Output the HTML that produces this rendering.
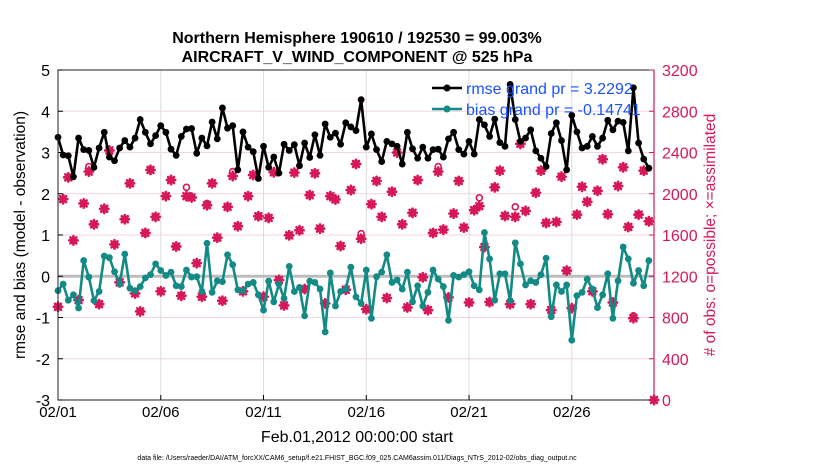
<!DOCTYPE html>
<html><head><meta charset="utf-8"><style>
body{margin:0;background:#fff;}
svg text{font-family:"Liberation Sans",Arial,sans-serif;}
</style></head><body>
<svg id="chart" width="830" height="470" xmlns="http://www.w3.org/2000/svg">
<rect width="830" height="470" fill="#fff"/>
<g id="grid"></g>
<g id="marks"></g>
<g id="axes"></g>
<text x="357" y="43" text-anchor="middle" font-size="16" font-weight="bold">Northern Hemisphere 190610 / 192530 = 99.003%</text>
<text x="357" y="62" text-anchor="middle" font-size="16" font-weight="bold">AIRCRAFT_V_WIND_COMPONENT @ 525 hPa</text>
<text x="357" y="442" text-anchor="middle" font-size="16">Feb.01,2012 00:00:00 start</text>
<text x="357" y="460" text-anchor="middle" font-size="7">data file: /Users/raeder/DAI/ATM_forcXX/CAM6_setup/f.e21.FHIST_BGC.f09_025.CAM6assim.011/Diags_NTrS_2012-02/obs_diag_output.nc</text>
<text transform="translate(25,235) rotate(-90)" text-anchor="middle" font-size="15.5">rmse and bias (model - observation)</text>
<text transform="translate(715,235) rotate(-90)" text-anchor="middle" font-size="15.5" fill="#d6185a"># of obs: o=possible; ×=assimilated</text>
<g>
<g><line x1="432" y1="88" x2="462" y2="88" stroke="#000" stroke-width="2.5"/><circle cx="447" cy="88" r="3.5" fill="#000"/><text x="466" y="94" font-size="16" fill="#1a53ff">rmse grand pr = 3.2292</text></g>
<g><line x1="432" y1="109" x2="462" y2="109" stroke="#138a85" stroke-width="2.5"/><circle cx="447" cy="109" r="3.5" fill="#138a85"/><text x="466" y="115" font-size="16" fill="#1a53ff">bias grand pr = -0.14741</text></g>
</g>
</svg>
<script>
const dateTicks=['02/01','02/06','02/11','02/16','02/21','02/26'];
const leftTicks=[-3,-2,-1,0,1,2,3,4,5];
const rightTicks=[0,400,800,1200,1600,2000,2400,2800,3200];
const rmse=[3.37,2.94,2.92,2.41,3.35,3.07,3.05,2.64,3.11,3.49,2.89,2.80,3.11,3.29,3.13,3.35,3.80,3.49,3.21,3.41,3.65,3.49,3.08,2.93,3.39,3.57,3.58,2.98,3.35,3.16,
3.74,3.33,4.08,3.59,3.65,2.58,3.50,3.13,3.02,2.37,3.15,2.64,2.89,2.50,3.20,3.05,3.19,2.68,3.23,2.88,3.43,2.93,3.69,3.37,3.47,3.20,3.72,3.62,3.53,4.28,
3.13,3.45,3.07,2.78,3.27,3.21,3.15,2.72,3.49,3.09,2.86,3.13,2.86,3.07,3.08,2.89,3.33,3.49,3.07,2.96,3.27,2.96,3.80,3.67,3.39,3.81,3.24,3.15,
4.65,3.80,3.27,3.35,3.55,3.04,2.86,2.66,3.46,3.72,3.29,2.58,3.90,3.50,3.11,3.15,3.39,3.15,3.35,3.78,3.55,3.76,3.73,3.04,4.57,3.23,2.84,2.62];
const bias=[-0.35,-0.19,-0.58,-0.45,-0.77,0.38,-0.02,-0.59,-0.37,0.49,0.45,0.11,-0.19,0.54,-0.29,-0.35,-0.25,-0.04,0.04,0.30,0.14,0.02,0.10,-0.23,-0.25,0.15,-0.02,-0.01,-0.37,0.80,
-0.39,-0.11,-0.13,0.52,0.28,-0.33,-0.35,-0.19,-0.15,-0.45,-0.82,-0.12,-0.62,-0.19,-0.54,0.24,-0.37,-0.27,-0.96,-0.12,-0.15,-0.31,-1.35,0.08,-0.72,-0.37,-0.31,0.22,-0.50,
-0.66,0.15,-1.02,-0.01,0.10,0.52,-0.15,-0.09,-0.31,0.10,-0.62,-0.23,-0.72,-0.39,0.15,-0.07,-0.25,-1.07,0.02,-0.02,0.04,0.11,-0.23,-0.33,1.06,0.42,-0.58,0.06,0.06,
-0.59,0.81,0.30,-0.21,-0.11,-0.15,0.04,0.44,-0.98,-0.21,-0.37,-0.21,-1.55,-0.47,-0.39,-0.07,-0.31,-0.76,-0.45,0.06,-1.02,-0.11,0.71,0.42,-0.17,0.14,-0.23,0.38];
const nAssim=[904,1948,2159,1548,969,1906,2215,1704,930,1854,2420,1509,1141,1753,2101,1034,859,1620,2231,1776,1054,1977,2133,1489,1011,1977,1964,1327,1002,1889,
2101,1574,963,1873,2172,1685,1054,1977,2182,1782,1002,1766,2208,1164,917,1597,2205,1646,1076,1987,2198,1662,937,1977,1945,1493,1070,2036,2289,
1564,881,1899,2124,1776,989,2020,2400,1704,898,1815,2133,1190,872,1620,2215,1652,995,1808,2124,1672,946,1841,1880,1483,950,2062,2224,1785,
930,1776,2484,1834,930,2010,2224,1717,872,1727,2166,1255,891,1798,2068,1922,1054,2029,2335,1802,946,2075,2257,1678,793,1798,2224,1733,0];
const nPossible=[904,1948,2159,1548,969,1906,2264,1704,930,1854,2420,1509,1141,1753,2101,1034,859,1620,2231,1776,1054,1977,2133,1489,1011,2062,1964,1327,1002,1906,
2101,1574,963,1873,2215,1685,1054,1977,2182,1782,1002,1766,2208,1164,917,1597,2205,1646,1076,1987,2198,1662,937,1977,1945,1493,1070,2036,2289,
1613,881,1899,2124,1776,989,2020,2400,1704,898,1815,2133,1190,872,1620,2264,1652,995,1808,2124,1672,946,1841,1961,1483,950,2062,2224,1785,
930,1873,2484,1834,930,2010,2224,1717,872,1727,2166,1255,891,1798,2068,1922,1054,2029,2335,1802,946,2075,2257,1678,816,1798,2224,1733,0];

const X0=58,X1=654,Y0=400,Y1=70,DAYS=29;
const xDay=d=>X0+(X1-X0)*d/DAYS;
const xIdx=i=>xDay(i*0.25);
const yL=v=>Y0-(v+3)/8*(Y0-Y1);
const yR=c=>Y0-c/3200*(Y0-Y1);
const NS='http://www.w3.org/2000/svg';
function mk(parent,tag,attrs){const e=document.createElementNS(NS,tag);for(const k in attrs)e.setAttribute(k,attrs[k]);parent.appendChild(e);return e;}
const grid=document.getElementById('grid'),marks=document.getElementById('marks'),axes=document.getElementById('axes');

rightTicks.forEach(c=>{const g=mk(grid,'line',{x1:X0,x2:X1,y1:yR(c),y2:yR(c),stroke:'#f3d3de','stroke-width':1});

});
dateTicks.forEach((t,k)=>{const x=xDay(k*5);const g=mk(grid,'line',{x1:x,x2:x,y1:Y1,y2:Y0,stroke:'#dcdcdc','stroke-width':1});


const tx=mk(axes,'text',{x:x,y:Y0+17,'text-anchor':'middle','font-size':15});tx.textContent=t;


mk(axes,'line',{x1:x,x2:x,y1:Y0,y2:Y0-5,stroke:'#000'});});
const zl=mk(grid,'line',{x1:X0,x2:X1,y1:yL(0),y2:yL(0),stroke:'#bdbdbd','stroke-width':3});



function star(x,y){const s=4.2,d=3;const p=mk(marks,'path',{d:`M${x-s},${y}H${x+s}M${x},${y-s}V${y+s}M${x-d},${y-d}L${x+d},${y+d}M${x-d},${y+d}L${x+d},${y-d}`,stroke:'#d6185a','stroke-width':2.6,'stroke-linecap':'round'});return p;}
nPossible.forEach((c,i)=>{const o=mk(marks,'circle',{cx:xIdx(i),cy:yR(c),r:3,fill:'none',stroke:'#d6185a','stroke-width':1.6});

});
nAssim.forEach((c,i)=>{const p=star(xIdx(i),yR(c));

});

function series(vals,color,name){
const pl=mk(marks,'polyline',{points:vals.map((v,i)=>xIdx(i)+','+yL(v)).join(' '),fill:'none',stroke:color,'stroke-width':2.6,'stroke-linejoin':'round'});


vals.forEach((v,i)=>{const c=mk(marks,'circle',{cx:xIdx(i),cy:yL(v),r:3.4,fill:color});

});}
series(bias,'#138a85','bias');
series(rmse,'#000','rmse');

mk(axes,'rect',{x:X0,y:Y1,width:X1-X0,height:Y0-Y1,fill:'none',stroke:'#222','stroke-width':1});
mk(axes,'line',{x1:X1,x2:X1,y1:Y1,y2:Y0,stroke:'#d6185a','stroke-width':1.2});
leftTicks.forEach(v=>{const t=mk(axes,'text',{x:X0-8,y:yL(v)+6,'text-anchor':'end','font-size':16});t.textContent=v;


mk(axes,'line',{x1:X0,x2:X0+5,y1:yL(v),y2:yL(v),stroke:'#000'});});
rightTicks.forEach(c=>{const t=mk(axes,'text',{x:X1+8,y:yR(c)+6,'font-size':16,fill:'#d6185a'});t.textContent=c;


mk(axes,'line',{x1:X1-5,x2:X1,y1:yR(c),y2:yR(c),stroke:'#d6185a'});});
</script>
</body></html>
